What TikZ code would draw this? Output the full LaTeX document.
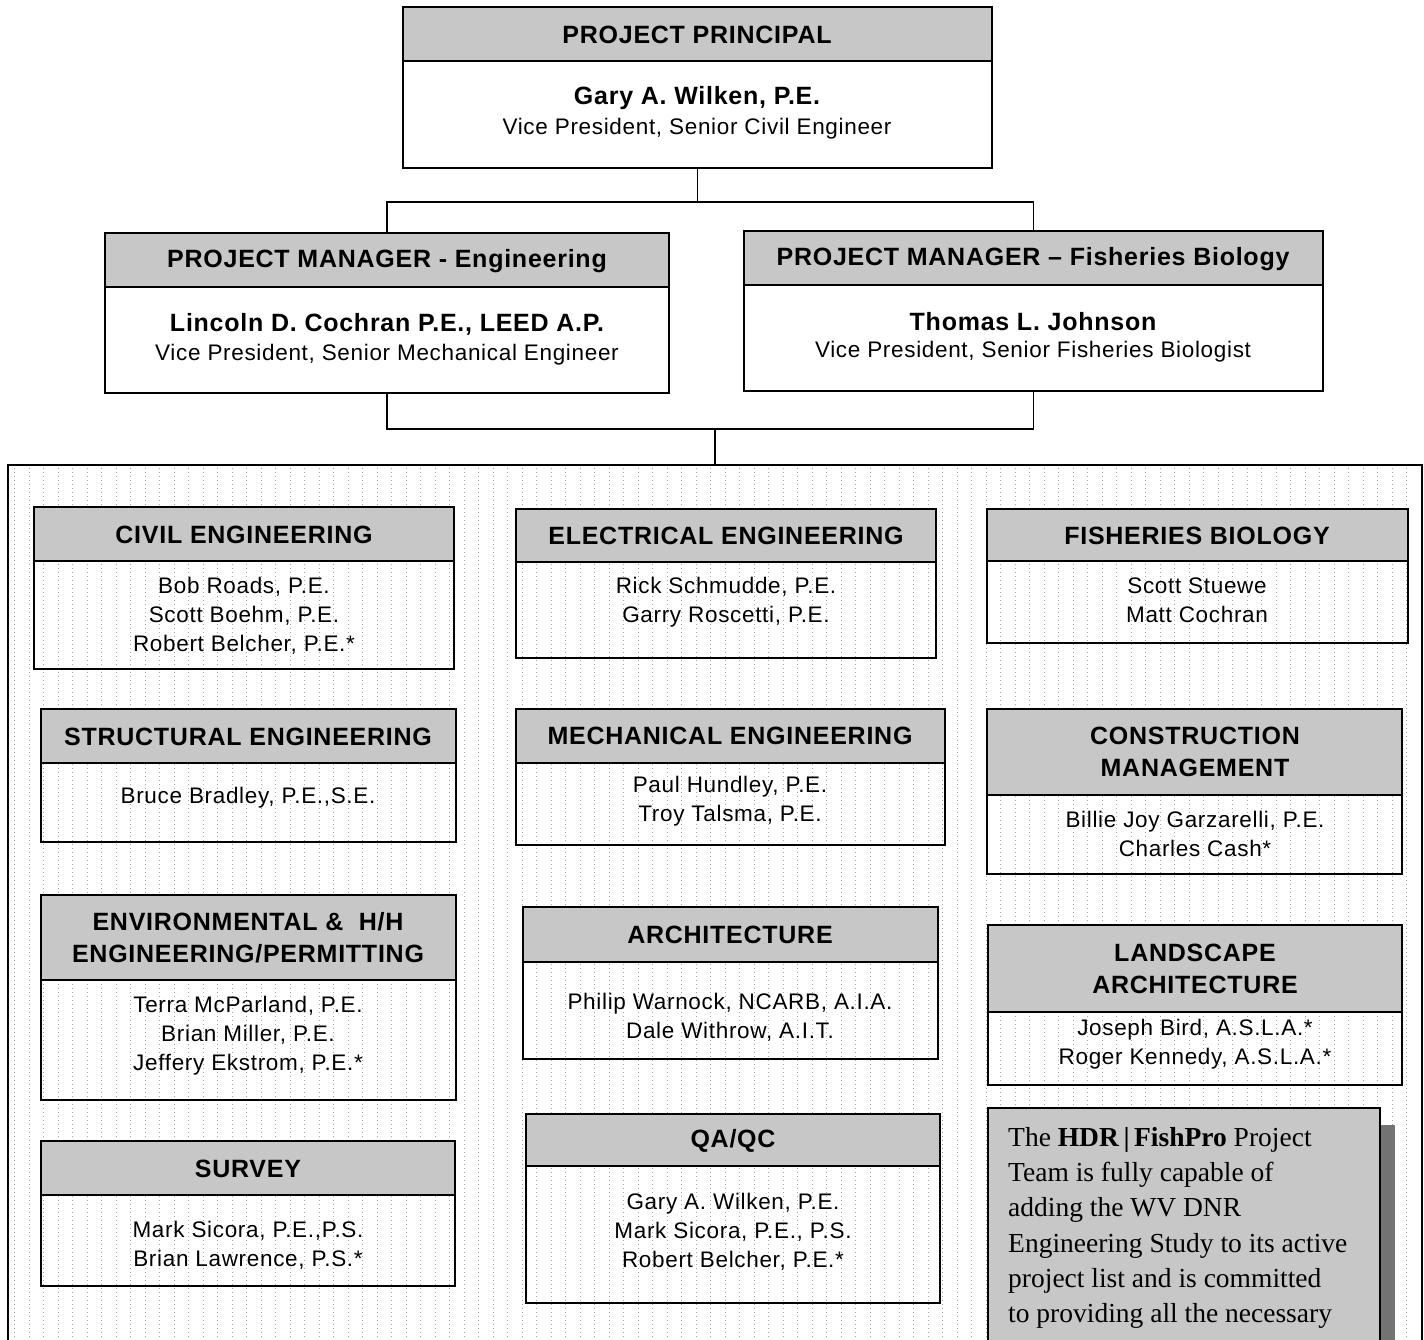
\documentclass[tikz,border=0pt]{standalone}
\usepackage{fontspec}
\setmainfont{Liberation Sans}[LetterSpace=3]
\newfontfamily\notefont{Liberation Serif}
\usetikzlibrary{fit}
\tikzset{
  hdr/.style={fill=black!22},
  frame/.style={draw, line width=1.6pt, inner sep=0pt},
  hline/.style={line width=1.4pt},
  conn/.style={line width=1.6pt},
  hd/.style={font=\fontsize{25}{32}\selectfont\bfseries, align=center, inner sep=0pt},
  nm/.style={font=\fontsize{25}{27}\selectfont\bfseries, inner sep=0pt},
  tx/.style={font=\fontsize{22.5}{29}\selectfont, align=center, inner sep=0pt},
  gridline/.style={black!35, line width=0.5pt, dash pattern=on 1pt off 3pt},
}
\newcommand{\obox}[6]{%
  \fill[hdr] (#2,#3) rectangle (#4,#6);
  \draw[hline] (#2,#6) -- (#4,#6);
  \node[frame, fit={(#2,#3) (#4,#5)}] (#1) {};
}
\begin{document}
\begin{tikzpicture}[x=1pt,y=-1pt]
\useasboundingbox (0,0) rectangle (1424,1339);
\clip (0,0) rectangle (1424,1339);
% team container background grid
\draw[gridline] (8,465) grid[xstep=14.5,ystep=14.5] (1422,1345);
\node[draw, line width=1.4pt, inner sep=0pt, fit={(8,465) (1422,1350)}] (team) {};
% top boxes
\obox{pp}{403}{7}{992}{168}{61}
\node[hd] (pp-h) at (697,35) {PROJECT PRINCIPAL};
\node[nm] (pp-n) at (697,98) {Gary A. Wilken, P.E.};
\node[tx] (pp-t) at (697,129) {Vice President, Senior Civil Engineer};
\obox{pme}{105}{233}{669}{393}{287}
\node[hd] (pme-h) at (387,261) {PROJECT MANAGER - Engineering};
\node[nm] (pme-n) at (387,324) {Lincoln D. Cochran P.E., LEED A.P.};
\node[tx] (pme-t) at (387,355) {Vice President, Senior Mechanical Engineer};
\obox{pmf}{744}{231}{1323}{391}{285}
\node[hd] (pmf-h) at (1033,259) {PROJECT MANAGER -- Fisheries Biology};
\node[nm] (pmf-n) at (1033,322) {Thomas L. Johnson};
\node[tx] (pmf-t) at (1033,352) {Vice President, Senior Fisheries Biologist};
% connectors
\coordinate (j1) at (pp.south |- 0,202);
\coordinate (j2) at (team.north |- 0,429);
\draw[conn] (pp.south) -- (j1);
\draw[conn] (pme.north) |- (j1) -| (pmf.north);
\draw[conn] (pme.south) |- (j2) -| (pmf.south);
\draw[conn] (j2) -- (team.north);
% column 1
\obox{civ}{34}{507}{454}{669}{561}
\node[hd] (civ-h) at (244,535) {CIVIL ENGINEERING};
\node[tx] (civ-t) at (244,616) {Bob Roads, P.E.\\Scott Boehm, P.E.\\Robert Belcher, P.E.*};
\obox{str}{41}{709}{456}{842}{763}
\node[hd] (str-h) at (248,737) {STRUCTURAL ENGINEERING};
\node[tx] (str-t) at (248,798) {Bruce Bradley, P.E.,S.E.};
\obox{env}{41}{895}{456}{1100}{980}
\node[hd] (env-h) at (248,938) {ENVIRONMENTAL \& \ H/H\\ENGINEERING/PERMITTING};
\node[tx] (env-t) at (248,1036) {Terra McParland, P.E.\\Brian Miller, P.E.\\Jeffery Ekstrom, P.E.*};
\obox{sur}{41}{1141}{455}{1286}{1195}
\node[hd] (sur-h) at (248,1169) {SURVEY};
\node[tx] (sur-t) at (248,1245) {Mark Sicora, P.E.,P.S.\\Brian Lawrence, P.S.*};
% column 2
\obox{ele}{516}{509}{936}{658}{562}
\node[hd] (ele-h) at (726,536) {ELECTRICAL ENGINEERING};
\node[tx] (ele-t) at (726,602) {Rick Schmudde, P.E.\\Garry Roscetti, P.E.};
\obox{mec}{516}{709}{945}{845}{763}
\node[hd] (mec-h) at (730,736) {MECHANICAL ENGINEERING};
\node[tx] (mec-t) at (730,801) {Paul Hundley, P.E.\\Troy Talsma, P.E.};
\obox{arc}{523}{907}{938}{1059}{962}
\node[hd] (arc-h) at (730,935) {ARCHITECTURE};
\node[tx] (arc-t) at (730,1017) {Philip Warnock, NCARB, A.I.A.\\Dale Withrow, A.I.T.};
\obox{qa}{526}{1114}{940}{1303}{1166}
\node[hd] (qa-h) at (733,1141) {QA/QC};
\node[tx] (qa-t) at (733,1232) {Gary A. Wilken, P.E.\\Mark Sicora, P.E., P.S.\\Robert Belcher, P.E.*};
% column 3
\obox{fis}{987}{509}{1408}{643}{561}
\node[hd] (fis-h) at (1197,536) {FISHERIES BIOLOGY};
\node[tx] (fis-t) at (1197,600) {Scott Stuewe\\Matt Cochran};
\obox{con}{987}{709}{1402}{874}{795}
\node[hd] (con-h) at (1195,752) {CONSTRUCTION\\MANAGEMENT};
\node[tx] (con-t) at (1195,834) {Billie Joy Garzarelli, P.E.\\Charles Cash*};
\obox{lan}{988}{925}{1402}{1085}{1012}
\node[hd] (lan-h) at (1195,969) {LANDSCAPE\\ARCHITECTURE};
\node[tx] (lan-t) at (1195,1044) {Joseph Bird, A.S.L.A.*\\Roger Kennedy, A.S.L.A.*};
% note box
\fill[black!55] (1380,1125) rectangle (1395,1345);
\node[draw, line width=1.8pt, fill=black!22, inner sep=0pt, fit={(988,1108) (1380,1350)}] (note) {};
\node[anchor=north west, inner sep=0pt, align=left, font=\notefont\fontsize{27.5}{35.3}\selectfont] (note-t) at (1008,1127)
 {The \textbf{HDR\,|\,FishPro} Project\\Team is fully capable of\\adding the WV DNR\\Engineering Study to its active\\project list and is committed\\to providing all the necessary};
\end{tikzpicture}
\end{document}
